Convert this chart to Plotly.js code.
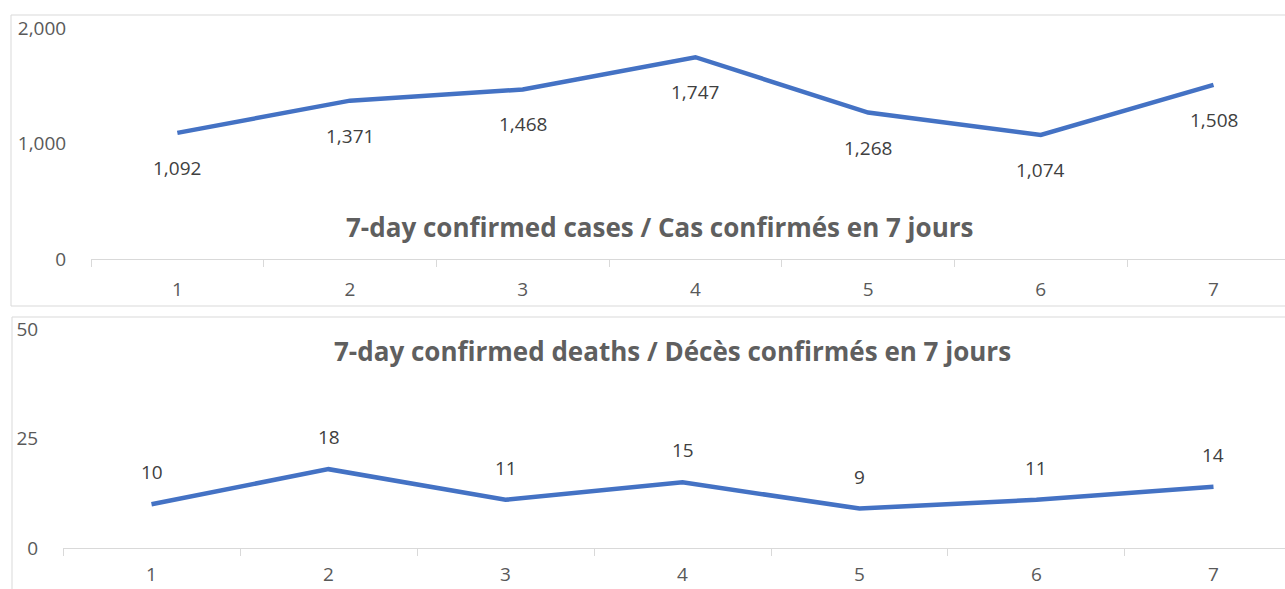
<!DOCTYPE html>
<html>
<head>
<meta charset="utf-8">
<script src="https://cdn.plot.ly/plotly-3.0.1.min.js"></script>
<style>
html,body{margin:0;padding:0;overflow:hidden;background:#fff;}
#chart{width:1285px;height:589px;}
</style>
</head>
<body>
<div id="chart"></div>
<script>
const days = ['1','2','3','4','5','6','7'];
const cases = [1092, 1371, 1468, 1747, 1268, 1074, 1508];
const deaths = [10, 18, 11, 15, 9, 11, 14];
const casesTicks = [0, 1000, 2000];
const deathsTicks = [0, 25, 50];
const casesTitle = '7-day confirmed cases / Cas confirmés en 7 jours';
const deathsTitle = '7-day confirmed deaths / Décès confirmés en 7 jours';

const W = 1285, H = 589;
const px = v => v / W;
const py = v => (H - v) / H;

const FONT = 'Open Sans, Liberation Sans, sans-serif';
const tickFont = {family: FONT, size: 19, color: '#595959'};
const labelFont = {family: FONT, size: 19, color: '#404040'};
const titleFont = {family: FONT, size: 26, color: '#5f5f5f'};
const lineColor = '#4472C4';

const traces = [
  {x: days, y: cases, xaxis: 'x', yaxis: 'y', mode: 'lines', type: 'scatter',
   line: {color: lineColor, width: 4.5}, hoverinfo: 'skip'},
  {x: days, y: deaths, xaxis: 'x2', yaxis: 'y2', mode: 'lines', type: 'scatter',
   line: {color: lineColor, width: 4.5}, hoverinfo: 'skip'}
];

const annotations = [];
days.forEach((d, i) => {
  annotations.push({x: i, y: cases[i], xref: 'x', yref: 'y', text: cases[i].toLocaleString('en-US'),
    showarrow: false, yshift: -35, font: labelFont});
  annotations.push({x: i, y: deaths[i], xref: 'x2', yref: 'y2', text: String(deaths[i]),
    showarrow: false, yshift: 32, font: labelFont});
});
annotations.push({x: px(660), y: py(227), xref: 'paper', yref: 'paper', text: '<b>' + casesTitle + '</b>',
  showarrow: false, xanchor: 'center', yanchor: 'middle', font: titleFont});
annotations.push({x: px(672), y: py(351), xref: 'paper', yref: 'paper', text: '<b>' + deathsTitle + '</b>',
  showarrow: false, xanchor: 'center', yanchor: 'middle', font: titleFont});

const xCommon = {
  type: 'category', showgrid: false, zeroline: false,
  showline: true, linecolor: '#d9d9d9', linewidth: 1,
  ticks: 'outside', tickson: 'boundaries', ticklen: 7, tickcolor: '#d9d9d9',
  tickfont: tickFont, fixedrange: true
};
const yCommon = {
  showgrid: false, zeroline: false, showline: false,
  ticks: 'outside', ticklen: 20, tickcolor: 'rgba(0,0,0,0)',
  tickfont: tickFont, tickformat: ',', fixedrange: true
};

const layout = {
  width: W, height: H,
  margin: {l: 0, r: 0, t: 0, b: 0},
  paper_bgcolor: '#fff', plot_bgcolor: 'rgba(0,0,0,0)',
  showlegend: false,
  font: {family: FONT},
  xaxis: Object.assign({}, xCommon, {domain: [px(91), 1], range: [-0.5, 6.414], anchor: 'y', ticklabelstandoff: 13}),
  yaxis: Object.assign({}, yCommon, {domain: [py(259), py(28)], range: [0, 2000], tickvals: casesTicks, anchor: 'x'}),
  xaxis2: Object.assign({}, xCommon, {domain: [px(63), 1], range: [-0.5, 6.404], anchor: 'y2', ticklabelstandoff: 9}),
  yaxis2: Object.assign({}, yCommon, {domain: [py(548), py(329)], range: [0, 50], tickvals: deathsTicks, anchor: 'x2'}),
  annotations: annotations,
  shapes: [
    {type: 'rect', xref: 'paper', yref: 'paper', x0: px(11), x1: 1.05, y0: py(306), y1: py(15),
     line: {color: '#d9d9d9', width: 1}, fillcolor: 'rgba(0,0,0,0)', layer: 'below'},
    {type: 'rect', xref: 'paper', yref: 'paper', x0: px(12), x1: 1.05, y0: -0.05, y1: py(317),
     line: {color: '#d9d9d9', width: 1}, fillcolor: 'rgba(0,0,0,0)', layer: 'below'}
  ]
};

Plotly.newPlot('chart', traces, layout, {displayModeBar: false, staticPlot: true});
</script>
</body>
</html>
